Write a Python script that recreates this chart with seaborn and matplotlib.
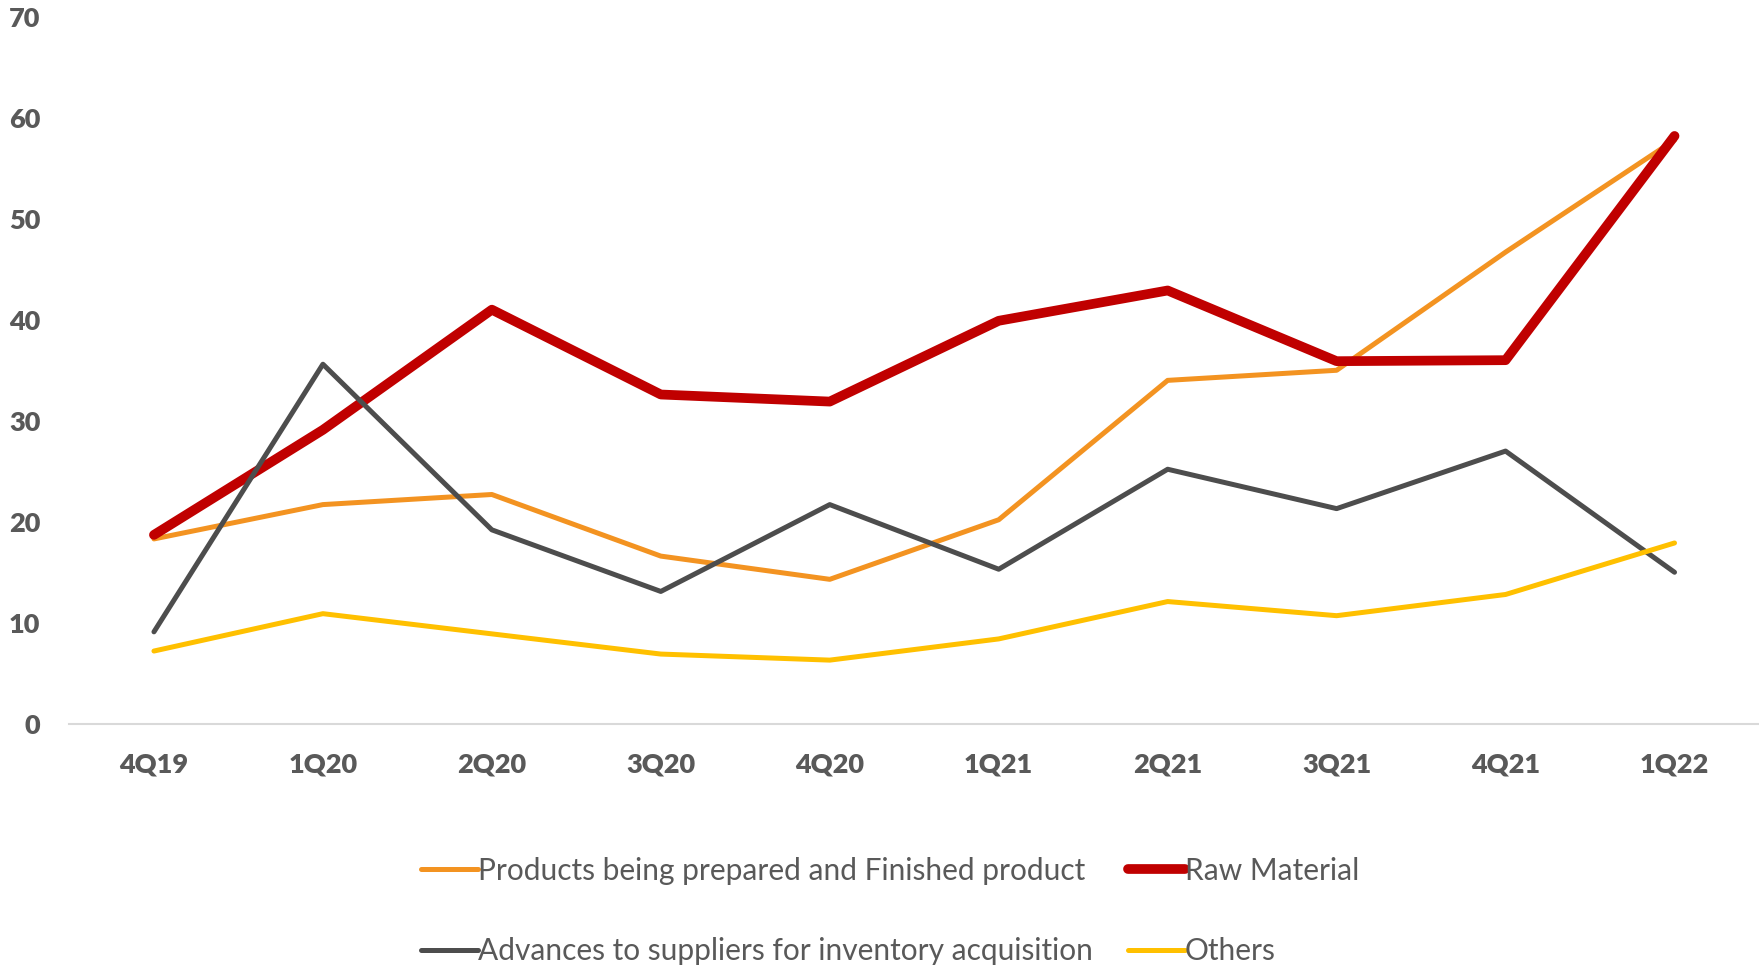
import matplotlib
matplotlib.use("Agg")
import matplotlib.pyplot as plt
import seaborn as sns
import pandas as pd

quarters = ["4Q19", "1Q20", "2Q20", "3Q20", "4Q20", "1Q21", "2Q21", "3Q21", "4Q21", "1Q22"]
products = [18.3, 21.7, 22.7, 16.6, 14.3, 20.2, 34.0, 35.0, 46.7, 57.8]
raw_material = [18.7, 29.1, 41.0, 32.6, 31.9, 39.9, 42.9, 35.9, 36.0, 58.2]
advances = [9.1, 35.6, 19.2, 13.1, 21.7, 15.3, 25.2, 21.3, 27.0, 15.0]
others = [7.2, 10.9, 8.9, 6.9, 6.3, 8.4, 12.1, 10.7, 12.8, 17.9]

series_names = ["Products being prepared and Finished product", "Raw Material",
                "Advances to suppliers for inventory acquisition", "Others"]
series_values = [products, raw_material, advances, others]
colors = ["#F39321", "#C00000", "#4D4D4D", "#FFC000"]
widths = [3.6, 7.0, 3.6, 3.6]

sns.set_theme(style="white")
plt.rcParams['font.family'] = ['Lato', 'DejaVu Sans']

fig = plt.figure(figsize=(17.59, 9.65), dpi=100)
ax = fig.add_axes([0.0395, 0.25, 0.9605, 0.7326])

handles = {}
for name, vals, c, w in zip(series_names, series_values, colors, widths):
    df = pd.DataFrame({"x": range(len(quarters)), "y": vals})
    sns.lineplot(data=df, x="x", y="y", ax=ax, color=c, linewidth=w,
                 solid_capstyle="round", label=name, legend=False)
    handles[name] = ax.lines[-1]

ax.set_xlim(-0.5, len(quarters) - 0.5)
ax.set_ylim(0, 70)
ax.set_xticks(range(len(quarters)))
ax.set_xticklabels(quarters)
ax.set_yticks(range(0, 71, 10))
ax.set_xlabel("")
ax.set_ylabel("")
for s in ["top", "right", "left"]:
    ax.spines[s].set_visible(False)
ax.spines["bottom"].set_color("#D9D9D9")
ax.spines["bottom"].set_linewidth(1.5)
ax.tick_params(axis="both", length=0, labelsize=19.5, colors="#595959")
ax.tick_params(axis="y", pad=21)
ax.tick_params(axis="x", pad=21)
for lab in ax.get_xticklabels() + ax.get_yticklabels():
    lab.set_fontweight("heavy")

order = [series_names[0], series_names[2], series_names[1], series_names[3]]
leg = fig.legend([handles[n] for n in order], order, ncol=2, loc="lower center",
                 bbox_to_anchor=(0.506, -0.028), frameon=False, fontsize=21.5,
                 handlelength=1.9, handletextpad=0.0, columnspacing=1.2,
                 labelspacing=1.75, labelcolor="#595959")

fig.savefig("out.png", dpi=100)
